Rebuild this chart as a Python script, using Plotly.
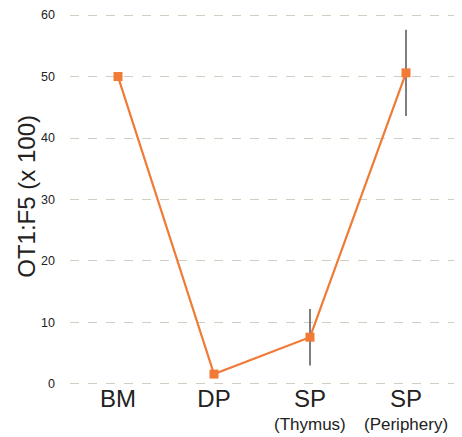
import plotly.graph_objects as go

categories = ["BM", "DP", "SP", "SP"]
sublabels = ["", "", "(Thymus)", "(Periphery)"]
values = [50.0, 1.6, 7.6, 50.6]
err_plus = [0, 0, 4.6, 7.0]
err_minus = [0, 0, 4.6, 7.0]
y_ticks = [0, 10, 20, 30, 40, 50, 60]
y_title = "OT1:F5 (x 100)"
xpos = list(range(len(categories)))

fig = go.Figure()
fig.add_trace(go.Scatter(
    x=xpos, y=values,
    mode="lines+markers",
    line=dict(color="#F07A36", width=2.2),
    marker=dict(symbol="square", size=9, color="#F07A36"),
    error_y=dict(type="data", symmetric=False, array=err_plus, arrayminus=err_minus,
                 color="#555555", thickness=1.5, width=0),
))
for xi, s in zip(xpos, sublabels):
    if s:
        fig.add_annotation(x=xi, xref="x", y=-0.099, yref="paper", text=s,
                           showarrow=False, yanchor="middle",
                           font=dict(size=17, color="#222222"))
fig.add_annotation(x=-0.112, xref="paper", y=0.51, yref="paper", text=y_title,
                   textangle=-90, showarrow=False, xanchor="center", yanchor="middle",
                   font=dict(size=24, color="#222222"))
fig.update_layout(
    width=462, height=437,
    margin=dict(l=70, r=8, t=12, b=50),
    paper_bgcolor="white", plot_bgcolor="white",
    showlegend=False,
    font=dict(family="Liberation Sans, Arial, sans-serif", color="#222222"),
)
fig.update_xaxes(
    range=[-0.5, 3.5], tickvals=xpos, ticktext=categories,
    tickfont=dict(size=24), showgrid=False, zeroline=False, showline=False, ticks="",
    ticklabelstandoff=-5, automargin=False,
)
fig.update_yaxes(
    range=[-0.5, 60.5], tickvals=y_ticks, tickfont=dict(size=12.5),
    showgrid=True, gridcolor="#CFCFBF", griddash="dash", gridwidth=1,
    zeroline=False, showline=False, ticks="", ticklabelstandoff=14, automargin=False,
)
fig.write_html("out.html")
